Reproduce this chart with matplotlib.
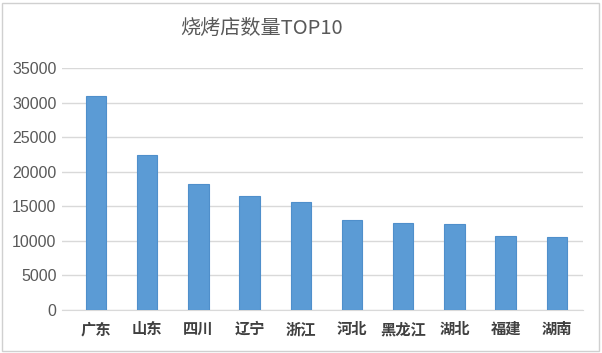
import matplotlib

matplotlib.use("Agg")
import matplotlib.pyplot as plt  # noqa: E402
from matplotlib.patches import Rectangle  # noqa: E402
import numpy as np  # noqa: E402

provinces = ["广东", "山东", "四川", "辽宁", "浙江", "河北", "黑龙江", "湖北", "福建", "湖南"]
store_counts = [31000, 22400, 18200, 16500, 15600, 13000, 12600, 12400, 10700, 10600]
y_ticks = [0, 5000, 10000, 15000, 20000, 25000, 30000, 35000]
title = "烧烤店数量TOP10"

plt.rcParams["font.family"] = ["Noto Sans CJK SC", "DejaVu Sans"]

W, H = 602, 353
fig = plt.figure(figsize=(W / 100, H / 100), dpi=100)
fig.patches.append(Rectangle((2 / W, 2 / H), 1 - 5 / W, 1 - 5 / H, transform=fig.transFigure,
                             fill=False, edgecolor="#D0D0D0", linewidth=1.0))

left, right, top, bottom = 62, 583, 68, 310
ax = fig.add_axes([left / W, 1 - bottom / H, (right - left) / W, (bottom - top) / H])

x = np.arange(len(provinces))
ax.bar(x, store_counts, width=0.4, color="#5B9BD5", edgecolor="#4F8FCB", linewidth=0.8, zorder=3)

ax.set_ylim(0, 35000)
ax.set_xlim(-0.664, 9.51)
ax.set_yticks(y_ticks)
ax.set_yticklabels([str(v) for v in y_ticks], fontsize=11.5, color="#595959", family="Liberation Sans")
ax.set_xticks(x)
ax.set_xticklabels(provinces, fontsize=11, color="#404040", fontweight="bold")
ax.tick_params(axis="both", length=0)
ax.tick_params(axis="y", pad=4)
ax.tick_params(axis="x", pad=8)
ax.grid(axis="y", color="#D9D9D9", linewidth=1.0, zorder=0)
for side in ["top", "right", "left"]:
    ax.spines[side].set_visible(False)
ax.spines["bottom"].set_color("#D9D9D9")

fig.text(0.435, 1 - 28 / H, title, ha="center", va="center", fontsize=14.5, color="#595959")

fig.savefig("out.png", dpi=100)
